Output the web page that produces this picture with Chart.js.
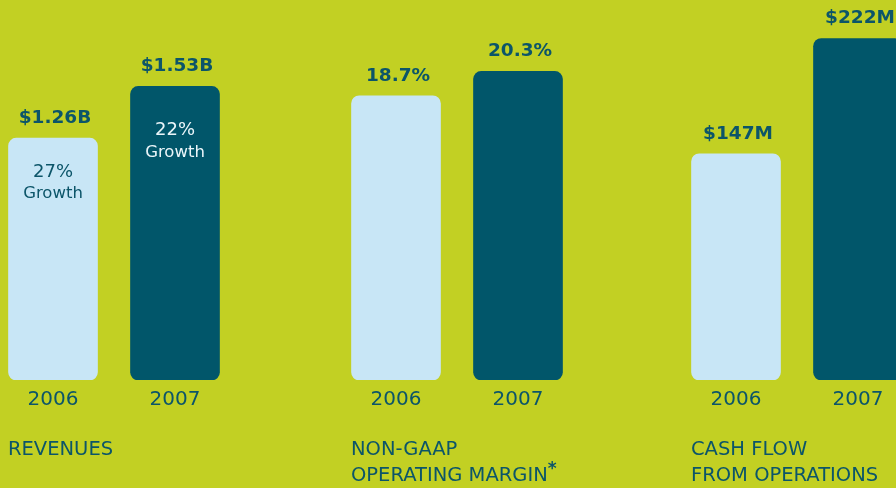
<!DOCTYPE html>
<html>
<head>
<meta charset="utf-8">
<script src="https://cdn.jsdelivr.net/npm/chart.js@4.4.1/dist/chart.umd.min.js"></script>
<style>
  html, body { margin: 0; padding: 0; }
  body { width: 896px; height: 488px; background: #c2d023; position: relative; overflow: hidden; font-family: "DejaVu Sans", sans-serif; }
  .box { position: absolute; top: 0; }
  .title { position: absolute; top: 436px; color: #0c5569; font-size: 19.5px; line-height: 26px; }
  .title sup { font-size: 17px; line-height: 0; font-weight: bold; }
</style>
</head>
<body>
<div class="box" style="left:-8px"><canvas id="revChart" width="244" height="488"></canvas></div>
<div class="box" style="left:335px"><canvas id="marginChart" width="244" height="488"></canvas></div>
<div class="box" style="left:675px"><canvas id="cashChart" width="244" height="488"></canvas></div>

<div class="title" style="left:8px">REVENUES</div>
<div class="title" style="left:351px">NON-GAAP<br>OPERATING MARGIN<sup>*</sup></div>
<div class="title" style="left:691px">CASH FLOW<br>FROM OPERATIONS</div>

<script>
// data
var years = ['2006', '2007'];
var revenue = [1.26, 1.53];          // $ billions
var revenueGrowth = ['27%', '22%'];
var margin = [18.7, 20.3];           // percent
var cashFlow = [147, 222];           // $ millions

var lightBar = '#c8e6f6';
var darkBar = '#01566a';
var textDark = '#0c5569';

// draws the value above each bar and the growth text inside it
var barText = {
  id: 'barText',
  afterDatasetsDraw: function(chart, args, opts) {
    var ctx = chart.ctx;
    var meta = chart.getDatasetMeta(0);
    var vals = chart.data.datasets[0].data;
    ctx.save();
    ctx.textAlign = 'center';
    ctx.textBaseline = 'middle';
    meta.data.forEach(function(bar, i) {
      ctx.fillStyle = textDark;
      ctx.font = 'bold 18.5px "DejaVu Sans"';
      ctx.fillText(opts.fmt(vals[i]), bar.x + 2, bar.y - 20);
      if (opts.growth) {
        ctx.fillStyle = i == 0 ? textDark : '#eaf5f9';
        ctx.font = '18px "DejaVu Sans"';
        ctx.fillText(opts.growth[i], bar.x, bar.y + opts.offsets[i]);
        ctx.font = '16.5px "DejaVu Sans"';
        ctx.fillText('Growth', bar.x, bar.y + opts.offsets[i] + 22);
      }
    });
    ctx.restore();
  }
};

function makeChart(id, values, max, fmt, growth) {
  return new Chart(document.getElementById(id).getContext('2d'), {
    type: 'bar',
    data: {
      labels: years,
      datasets: [{
        data: values,
        backgroundColor: [lightBar, darkBar],
        barThickness: 89,
        borderRadius: 8,
        borderSkipped: false
      }]
    },
    options: {
      responsive: false,
      animation: false,
      devicePixelRatio: 1,
      layout: { padding: { top: 0, bottom: 68, left: 0, right: 0 } },
      plugins: {
        legend: { display: false },
        tooltip: { enabled: false },
        barText: { fmt: fmt, growth: growth, offsets: [34, 44] }
      },
      scales: {
        x: {
          grid: { display: false, drawTicks: false },
          border: { display: false },
          ticks: { color: textDark, font: { family: 'DejaVu Sans', size: 20 }, padding: 8 }
        },
        y: { display: false, min: 0, max: max }
      }
    },
    plugins: [barText]
  });
}

makeChart('revChart', revenue, 1.98, function(v) { return '$' + v.toFixed(2) + 'B'; }, revenueGrowth);
makeChart('marginChart', margin, 25, function(v) { return v.toFixed(1) + '%'; });
makeChart('cashChart', cashFlow, 247, function(v) { return '$' + v + 'M'; });
</script>
</body>
</html>
